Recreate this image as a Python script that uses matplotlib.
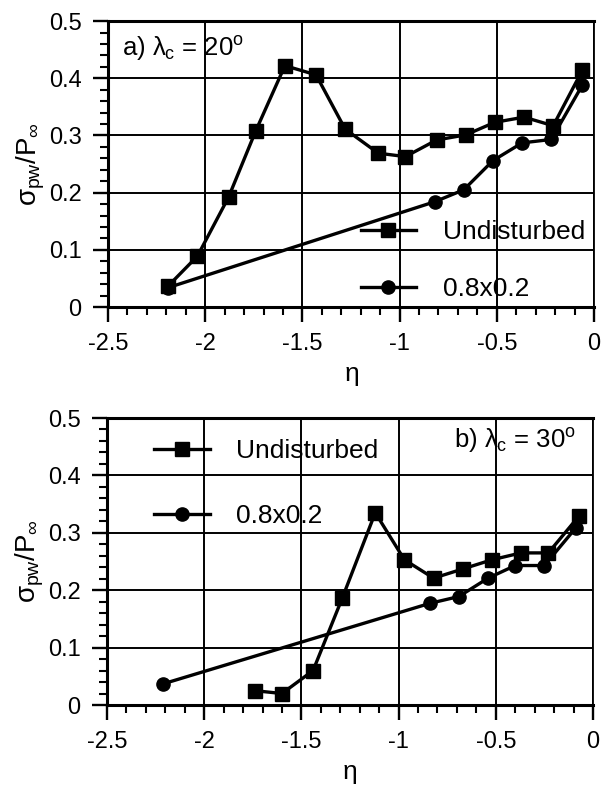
import matplotlib
matplotlib.use("Agg")
import matplotlib.pyplot as plt
from matplotlib.ticker import MultipleLocator

plt.rcParams['font.family'] = ['Liberation Sans', 'DejaVu Sans']
plt.rcParams['mathtext.fontset'] = 'custom'
plt.rcParams['mathtext.rm'] = 'Liberation Sans'
plt.rcParams['mathtext.it'] = 'Liberation Sans'
plt.rcParams['mathtext.bf'] = 'Liberation Sans:bold'

# (a) lambda_c = 20 deg
eta_a_und = [-2.19, -2.04, -1.88, -1.74, -1.59, -1.43, -1.28, -1.11, -0.97,
             -0.81, -0.66, -0.51, -0.36, -0.21, -0.06]
sig_a_und = [0.037, 0.089, 0.192, 0.308, 0.422, 0.406, 0.311, 0.269, 0.263,
             0.292, 0.301, 0.323, 0.332, 0.317, 0.414]
eta_a_dis = [-2.19, -0.82, -0.67, -0.52, -0.37, -0.22, -0.06]
sig_a_dis = [0.034, 0.184, 0.205, 0.256, 0.287, 0.293, 0.388]

# (b) lambda_c = 30 deg
eta_b_und = [-1.74, -1.60, -1.44, -1.29, -1.12, -0.97, -0.82, -0.67, -0.52,
             -0.37, -0.23, -0.07]
sig_b_und = [0.025, 0.020, 0.060, 0.186, 0.335, 0.253, 0.221, 0.237, 0.253,
             0.265, 0.265, 0.330]
eta_b_dis = [-2.21, -0.84, -0.69, -0.54, -0.40, -0.25, -0.09]
sig_b_dis = [0.037, 0.177, 0.189, 0.221, 0.243, 0.243, 0.308]

labels = ['Undisturbed', '0.8x0.2']
xticks = [-2.5, -2, -1.5, -1, -0.5, 0]
xticklabels = ['-2.5', '-2', '-1.5', '-1', '-0.5', '0']
yticks = [0, 0.1, 0.2, 0.3, 0.4, 0.5]
yticklabels = ['0', '0.1', '0.2', '0.3', '0.4', '0.5']

fig = plt.figure(figsize=(6.01, 7.95), dpi=100)
ax_a = fig.add_axes([0.1797, 0.6138, 0.8087, 0.3597])
ax_b = fig.add_axes([0.1780, 0.1132, 0.8087, 0.3610])

TICK_FS = 17
LEG_FS = 19


def style(ax):
    ax.set_xlim(-2.5, 0)
    ax.set_ylim(0, 0.5)
    ax.set_xticks(xticks)
    ax.set_xticklabels(xticklabels)
    ax.set_yticks(yticks)
    ax.set_yticklabels(yticklabels)
    ax.xaxis.set_minor_locator(MultipleLocator(0.1))
    ax.yaxis.set_minor_locator(MultipleLocator(0.02))
    ax.tick_params(which='major', direction='out', length=11, width=1.7,
                   labelsize=TICK_FS, pad=8, colors='black')
    ax.tick_params(which='minor', direction='out', length=6, width=1.5)
    ax.grid(True, which='major', color='black', linewidth=1.4)
    for side in ('left', 'bottom', 'top'):
        ax.spines[side].set_linewidth(2.2)
    ax.spines['right'].set_linewidth(1.3)
    ax.set_xlabel(r'$\eta$', fontsize=19, labelpad=6)
    ax.set_ylabel(r'$\sigma_{pw}/P_{\infty}$', fontsize=20, labelpad=1)


def draw(ax, xu, yu, xd, yd):
    ax.plot(xu, yu, color='black', linewidth=2.4, marker='s', markersize=9.5,
            label=labels[0], clip_on=False)
    ax.plot(xd, yd, color='black', linewidth=2.4, marker='o', markersize=9.5,
            label=labels[1], clip_on=False)


style(ax_a)
draw(ax_a, eta_a_und, sig_a_und, eta_a_dis, sig_a_dis)
ax_a.legend(loc='center left', bbox_to_anchor=(0.52, 0.161), frameon=False,
            fontsize=LEG_FS, handlelength=2.1, handletextpad=1.0,
            labelspacing=1.25, borderpad=0, borderaxespad=0)
ax_a.text(0.028, 0.905, r'a) $\lambda_c$ = 20$^o$', transform=ax_a.transAxes,
          fontsize=18.5, ha='left', va='center')

style(ax_b)
draw(ax_b, eta_b_und, sig_b_und, eta_b_dis, sig_b_dis)
ax_b.legend(loc='center left', bbox_to_anchor=(0.097, 0.771), frameon=False,
            fontsize=LEG_FS, handlelength=2.1, handletextpad=1.0,
            labelspacing=1.55, borderpad=0, borderaxespad=0)
ax_b.text(0.715, 0.92, r'b) $\lambda_c$ = 30$^o$', transform=ax_b.transAxes,
          fontsize=18.5, ha='left', va='center')

fig.savefig('out.png', dpi=100)
